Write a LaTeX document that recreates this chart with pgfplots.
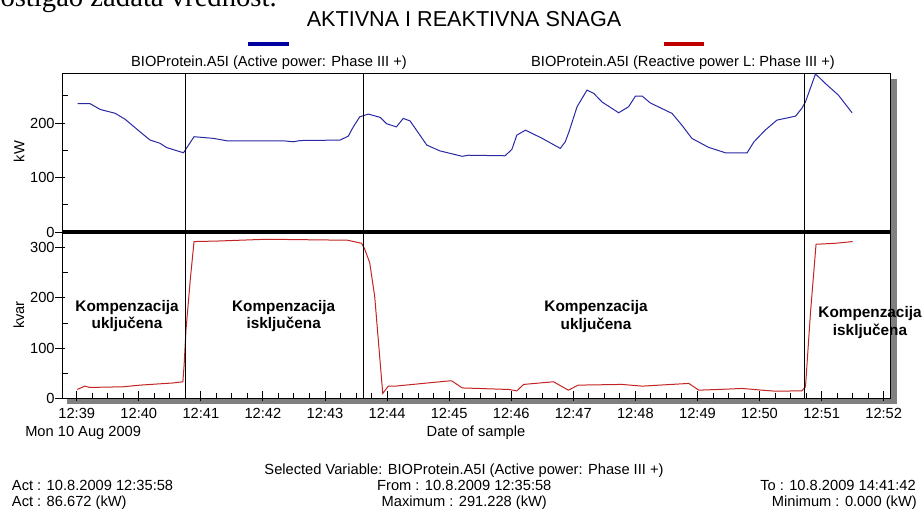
\documentclass[border=0pt]{standalone}
\usepackage{pgfplots}
\pgfplotsset{compat=1.18}
\usepackage{fontspec}
\setmainfont{Liberation Sans}
\newfontfamily\timesfont{Liberation Serif}
\definecolor{lineblue}{RGB}{40,40,165}
\definecolor{linered}{RGB}{195,35,35}
\definecolor{legblue}{RGB}{0,0,160}
\definecolor{legred}{RGB}{192,0,0}
\definecolor{shadow}{RGB}{128,128,128}
\newcommand{\tf}{\fontsize{11}{13}\selectfont}
\pgfplotsset{
  common/.style={
    scale only axis, width=621pt, anchor=south west,
    xmin=38.771, xmax=52.1095, clip=false,
    axis line style={line width=0.75pt, black},
    tick style={line width=0.75pt, black},
    tick align=center,
    ytick pos=left,
    major tick length=7.5pt, minor tick length=5pt,
    every major y tick/.append style={xshift=-1.875pt},
    every minor y tick/.append style={xshift=1.875pt},
    every major x tick/.append style={yshift=1.65pt},
    every minor x tick/.append style={yshift=1.875pt},
    /pgf/number format/assume math mode=true,
    ticklabel style={font=\tf},
    yticklabel style={anchor=east, inner sep=0pt, xshift=-2pt},
    minor ytick={50,150,250},
  }
}
\begin{document}
\begin{tikzpicture}
\begin{scope}[x=0.75pt,y=-0.75pt]
  \begin{scope}
    \clip (0,0) rectangle (924,508);
    \node[anchor=base east, inner sep=0pt, font=\timesfont\fontsize{21.5}{24}\selectfont] at (277,6) {dostigao zadata vrednost.};
  \end{scope}
  \fill[shadow] (891,79) rectangle (897,404);
  \fill[shadow] (67,399) rectangle (897,404);
\end{scope}

% top axis: active power
\begin{axis}[common,
  at={(46.875pt,-174pt)}, height=119.25pt,
  ymin=0, ymax=292,
  xtick=\empty,
  ytick={0,100,200},
]
\addplot[lineblue, line width=0.75pt] coordinates {
(39.016,236) (39.21,236) (39.38,225) (39.62,218) (39.78,207) (40.02,184)
(40.18,169) (40.34,163) (40.45,155) (40.72,145.5) (40.89,175) (41.2,172)
(41.42,167.5) (42.33,167.5) (42.49,165.7) (42.6,168) (43.24,168.8) (43.375,176)
(43.455,193) (43.56,211.6) (43.70,216.5) (43.89,210.5) (43.99,199) (44.15,193)
(44.26,208.6) (44.37,204) (44.64,159.6) (44.85,149) (45.21,139) (45.31,141)
(45.90,140) (46.01,151.7) (46.09,178) (46.23,187) (46.5,171.9) (46.79,153.5)
(46.87,165.7) (46.93,184) (47.06,230) (47.22,260.6) (47.33,254.5) (47.46,239)
(47.73,219) (47.89,230) (48.0,249.5) (48.11,249.5) (48.24,237) (48.59,217.8)
(48.75,196) (48.91,171.9) (49.18,155.4) (49.45,145.5) (49.80,145.5) (49.91,165.7)
(50.09,187) (50.28,205.5) (50.58,212.8) (50.68,227) (50.74,239) (50.90,290)
(50.95,285) (51.06,272.8) (51.27,251.4) (51.49,219)
};
\draw[line width=0.75pt] (axis cs:40.756,0) -- (axis cs:40.756,292);
\draw[line width=0.75pt] (axis cs:43.617,0) -- (axis cs:43.617,292);
\draw[line width=0.75pt] (axis cs:50.727,0) -- (axis cs:50.727,292);
\draw[line width=3pt] (rel axis cs:0,0) -- (rel axis cs:1,0);
\end{axis}

% bottom axis: reactive power
\begin{axis}[common,
  at={(46.875pt,-298.875pt)}, height=124.875pt,
  ymin=0, ymax=331,
  ytick={0,100,200,300},
  xtick={39,40,41,42,43,44,45,46,47,48,49,50,51,52},
  xticklabels={12:39,12:40,12:41,12:42,12:43,12:44,12:45,12:46,12:47,12:48,12:49,12:50,12:51,12:52},
  minor x tick num=3,
  xtick pos=bottom,
  xticklabel style={anchor=north, inner sep=0pt, yshift=-3.5pt},
]
\addplot[linered, line width=0.75pt] coordinates {
(39.01,18) (39.13,24.6) (39.21,22) (39.75,23.3) (40.02,26.6) (40.56,31)
(40.71,33.3) (40.73,66) (40.76,136) (40.83,237) (40.89,312) (41.26,313)
(42.06,316.6) (43.13,315) (43.35,315) (43.59,308.6) (43.64,296.6) (43.72,270)
(43.80,203) (43.93,10) (44.02,24.6) (44.13,24.6) (44.58,30) (44.96,34.6)
(45.04,35.2) (45.21,21) (45.96,18) (46.09,15.2) (46.20,28) (46.68,33.3)
(46.92,16.6) (47.08,26.6) (47.78,28) (48.11,24.6) (48.86,30) (49.02,16.6)
(49.34,18) (49.72,20) (50.04,16.6) (50.25,14.6) (50.68,15.2) (50.74,23.3)
(50.82,170) (50.91,306.6) (51.22,308.6) (51.50,312)
};
\draw[line width=0.75pt] (axis cs:40.756,0) -- (axis cs:40.756,331);
\draw[line width=0.75pt] (axis cs:43.617,0) -- (axis cs:43.617,331);
\draw[line width=0.75pt] (axis cs:50.727,0) -- (axis cs:50.727,331);
\end{axis}

\begin{scope}[x=0.75pt,y=-0.75pt]
  \node[anchor=base, inner sep=0pt, font=\fontsize{16.2}{19}\selectfont] at (464,26.7) {AKTIVNA I REAKTIVNA SNAGA};
  \draw[legblue, line width=3pt] (248,44.3) -- (289,44.3);
  \draw[legred, line width=3pt] (663.7,44.3) -- (704.3,44.3);
  \node[anchor=base, inner sep=0pt, font=\tf] at (269,66) {BIOProtein.A5I (Active power: Phase III +)};
  \node[anchor=base, inner sep=0pt, font=\tf] at (683,66) {BIOProtein.A5I (Reactive power L: Phase III +)};
  \node[rotate=90, inner sep=0pt, font=\tf] at (19,151.7) {kW};
  \node[rotate=90, inner sep=0pt, font=\tf] at (19,315) {kvar};
  % annotations
  \begin{scope}[every node/.style={anchor=base, inner sep=0pt, font=\bfseries\fontsize{11.5}{13}\selectfont}]
    \node at (127,311) {Kompenzacija};
    \node at (127,328.3) {uključena};
    \node at (283.7,311) {Kompenzacija};
    \node at (283.7,328.3) {isključena};
    \node at (596,311.5) {Kompenzacija};
    \node at (596,329) {uključena};
    \node at (870,317.3) {Kompenzacija};
    \node at (870,335) {isključena};
  \end{scope}
  % axis titles
  \node[anchor=base west, inner sep=0pt, font=\tf] at (25,436.7) {Mon 10 Aug 2009};
  \node[anchor=base, inner sep=0pt, font=\tf] at (476,436.7) {Date of sample};
  % footer
  \node[anchor=base, inner sep=0pt, font=\tf] at (464,474) {Selected Variable: BIOProtein.A5I (Active power: Phase III +)};
  \node[anchor=base west, inner sep=0pt, font=\tf] at (11.7,490.7) {Act : 10.8.2009 12:35:58};
  \node[anchor=base west, inner sep=0pt, font=\tf] at (11.7,506) {Act : 86.672 (kW)};
  \node[anchor=base, inner sep=0pt, font=\tf] at (464.3,490.7) {From : 10.8.2009 12:35:58};
  \node[anchor=base, inner sep=0pt, font=\tf] at (464.3,506) {Maximum : 291.228 (kW)};
  \node[anchor=base east, inner sep=0pt, font=\tf] at (916,490.7) {To : 10.8.2009 14:41:42};
  \node[anchor=base east, inner sep=0pt, font=\tf] at (917,506) {Minimum : 0.000 (kW)};
  \pgfresetboundingbox
  \path[use as bounding box] (0,0) rectangle (924,508);
\end{scope}
\end{tikzpicture}
\end{document}
